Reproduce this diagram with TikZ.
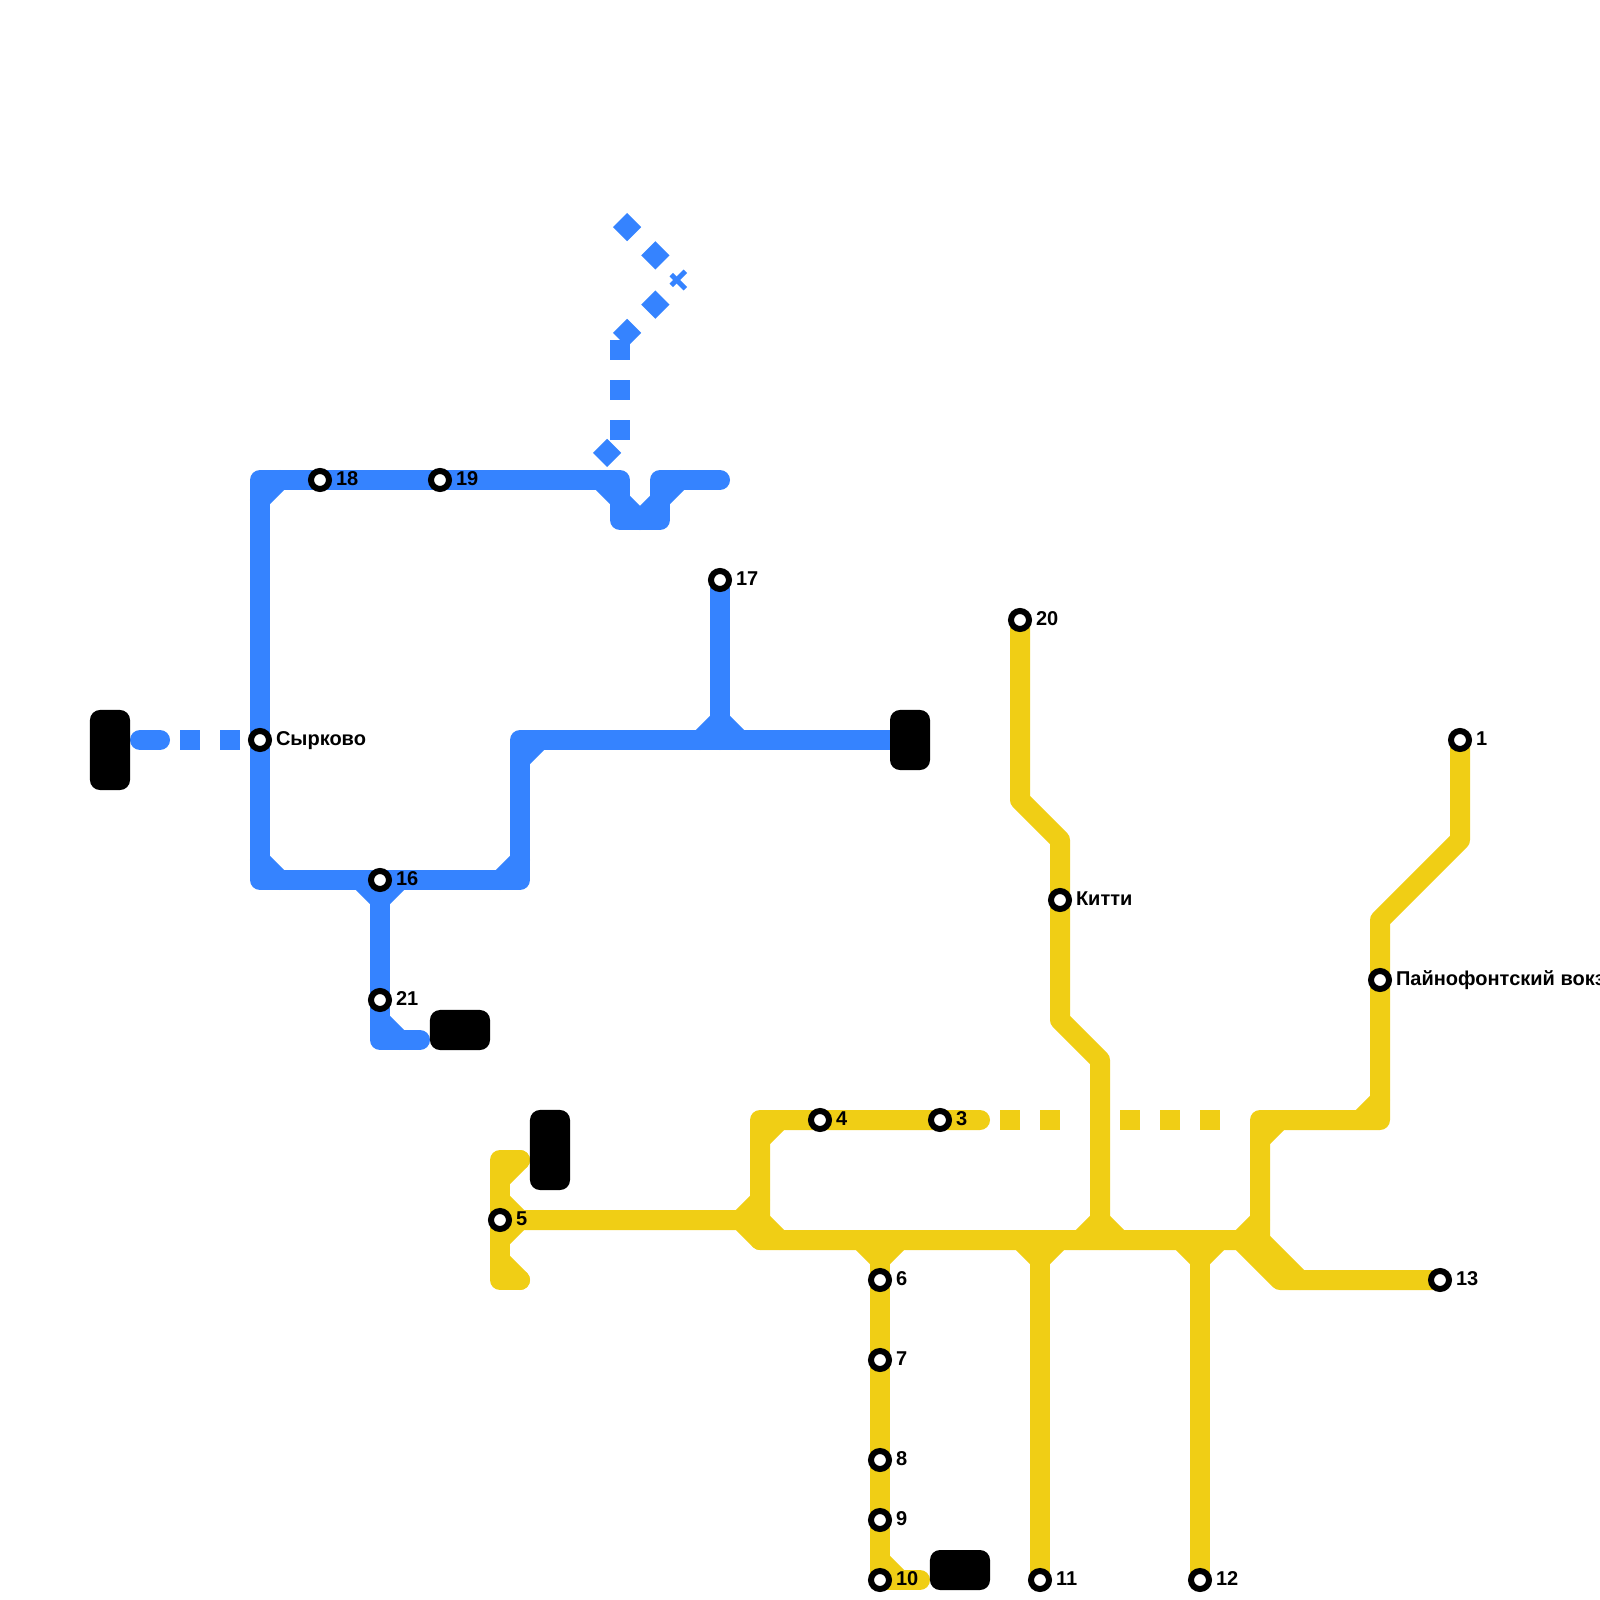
\documentclass[tikz,border=0pt]{standalone}
\usepackage{fontspec}
\setmainfont{Liberation Sans}
\usetikzlibrary{backgrounds}
\definecolor{lineblue}{HTML}{3583FF}
\definecolor{lineyellow}{HTML}{F0CE15}
\tikzset{
    mystation/.style = {circle, line width=0.06cm, draw=black, fill=white, inner sep=0pt, outer sep=0pt, minimum size=0.18cm},
    mylabel/.style = {inner sep=0pt, outer sep=0pt, xshift=0.07cm, text height=0.145cm, text depth=0.045cm, font=\bfseries\fontsize{5.69}{7}\selectfont, text=black},
    mydepot/.style = {rectangle, rounded corners=0.1cm, fill=black, inner sep=0pt, minimum width=0.4cm, minimum height=0.8cm},
    mydepotw/.style = {rectangle, rounded corners=0.1cm, fill=black, inner sep=0pt, minimum width=0.6cm, minimum height=0.4cm},
    mydepots/.style = {rectangle, rounded corners=0.1cm, fill=black, inner sep=0pt, minimum width=0.4cm, minimum height=0.6cm},
    edgeb/.style = {-,line width=0.2cm,lineblue,line join=round,line cap=round},
    edgey/.style = {-,line width=0.2cm,lineyellow,line join=round,line cap=round},
    edgebd/.style = {-,line width=0.2cm,lineblue,dash pattern=on 0.2cm off 0.2cm}, % planned
    edgeyd/.style = {-,line width=0.2cm,lineyellow,dash pattern=on 0.2cm off 0.2cm} % planned
}
\begin{document}
\begin{tikzpicture}[x=0.01cm,y=-0.01cm]
%
\path[use as bounding box] (0,0) rectangle (1600,1600);
%
% blue stations
\node[mystation, label={[mylabel]right:18}] at (320,480) (s18) {};
\node[mystation, label={[mylabel]right:19}] at (440,480) (s19) {};
\node[mystation, label={[mylabel]right:17}] at (720,580) (s17) {};
\node[mystation, label={[mylabel]right:Сырково}] at (260,740) (ssyr) {};
\node[mystation, label={[mylabel]right:16}] at (380,880) (s16) {};
\node[mystation, label={[mylabel]right:21}] at (380,1000) (s21) {};
% yellow stations
\node[mystation, label={[mylabel]right:20}] at (1020,620) (s20) {};
\node[mystation, label={[mylabel]right:Китти}] at (1060,900) (skit) {};
\node[mystation, label={[mylabel]right:1}] at (1460,740) (s1) {};
\node[mystation, label={[mylabel]right:Пайнофонтский вокз}] at (1380,980) (spai) {};
\node[mystation, label={[mylabel]right:4}] at (820,1120) (s4) {};
\node[mystation, label={[mylabel]right:3}] at (940,1120) (s3) {};
\node[mystation, label={[mylabel]right:5}] at (500,1220) (s5) {};
\node[mystation, label={[mylabel]right:13}] at (1440,1280) (s13) {};
\node[mystation, label={[mylabel]right:6}] at (880,1280) (s6) {};
\node[mystation, label={[mylabel]right:7}] at (880,1360) (s7) {};
\node[mystation, label={[mylabel]right:8}] at (880,1460) (s8) {};
\node[mystation, label={[mylabel]right:9}] at (880,1520) (s9) {};
\node[mystation, label={[mylabel]right:10}] at (880,1580) (s10) {};
\node[mystation, label={[mylabel]right:11}] at (1040,1580) (s11) {};
\node[mystation, label={[mylabel]right:12}] at (1200,1580) (s12) {};
% depots
\node[mydepot] at (110,750) (dleft) {};
\node[mydepots] at (910,740) (dright) {};
\node[mydepotw] at (460,1030) (dmid) {};
\node[mydepot] at (550,1150) (dup) {};
\node[mydepotw] at (960,1570) (dlow) {};
%
% blue bends
\coordinate (ba) at (720,480);
\coordinate (bb) at (660,480);
\coordinate (bc) at (660,520);
\coordinate (bd) at (620,520);
\coordinate (be) at (620,480);
\coordinate (bf) at (260,480);
\coordinate (bg) at (260,880);
\coordinate (bh) at (520,880);
\coordinate (bi) at (520,740);
\coordinate (bj) at (720,740);
\coordinate (bk) at (380,1040);
\coordinate (bl) at (420,1040);
\coordinate (bm) at (140,740);
\coordinate (bn) at (160,740);
\coordinate (bo) at (180,740);
\coordinate (bp) at (620,440);
\coordinate (bq) at (620,340);
\coordinate (br) at (600,460);
\coordinate (bs) at (680,280);
\coordinate (bt) at (620,220);
% yellow bends
\coordinate (ya) at (1020,800);
\coordinate (yb) at (1060,840);
\coordinate (yc) at (1060,1020);
\coordinate (yd) at (1100,1060);
\coordinate (ye) at (1100,1240);
\coordinate (yf) at (1460,840);
\coordinate (yg) at (1380,920);
\coordinate (yh) at (1380,1120);
\coordinate (yi) at (1260,1120);
\coordinate (yj) at (1260,1240);
\coordinate (yk) at (760,1240);
\coordinate (yl) at (760,1120);
\coordinate (ym) at (980,1120);
\coordinate (yn) at (760,1220);
\coordinate (yo) at (740,1220);
\coordinate (yp) at (500,1160);
\coordinate (yq) at (520,1160);
\coordinate (yr) at (500,1280);
\coordinate (ys) at (520,1280);
\coordinate (yt) at (880,1240);
\coordinate (yu) at (1040,1240);
\coordinate (yv) at (1200,1240);
\coordinate (yw) at (1240,1240);
\coordinate (yx) at (1280,1280);
\coordinate (yy) at (880,1580);
\coordinate (yz) at (920,1580);
%
\begin{scope}[on background layer]
% blue line
\draw[edgeb] (ba) -- (bb) -- (bc) -- (bd) -- (be) -- (s19.center) -- (s18.center) -- (bf) -- (ssyr.center) -- (bg) -- (s16.center) -- (bh) -- (bi) -- (bj) -- (dright.center);
\draw[edgeb] (s17.center) -- (bj);
\draw[edgeb] (s16.center) -- (s21.center) -- (bk) -- (bl);
\draw[edgeb] (bm) -- (bn);
\draw[edgebd] (bo) -- (ssyr.center);
\draw[edgebd] (bp) -- (bq);
\draw[edgebd] (br) -- (bp);
\draw[edgebd] (bq) -- (bs);
\draw[edgebd] (bt) -- (bs);
% blue corners
\draw[edgeb] (bb) +(20,0) -- +(0,20);
\draw[edgeb] (bc) +(0,-20) -- +(-20,0);
\draw[edgeb] (bd) +(20,0) -- +(0,-20);
\draw[edgeb] (be) +(-20,0) -- +(0,20);
\draw[edgeb] (bf) +(0,20) -- +(20,0);
\draw[edgeb] (bg) +(0,-20) -- +(20,0);
\draw[edgeb] (bh) +(-20,0) -- +(0,-20);
\draw[edgeb] (bi) +(0,20) -- +(20,0);
\draw[edgeb] (bj) +(-20,0) -- +(0,-20);
\draw[edgeb] (bj) +(20,0) -- +(0,-20);
\draw[edgeb] (s16.center) +(-20,0) -- +(0,20);
\draw[edgeb] (s16.center) +(20,0) -- +(0,20);
\draw[edgeb] (bk) +(0,-20) -- +(20,0);
% yellow line
\draw[edgey] (s20.center) -- (ya) -- (yb) -- (skit.center) -- (yc) -- (yd) -- (ye);
\draw[edgey] (s1.center) -- (yf) -- (yg) -- (spai.center) -- (yh) -- (yi) -- (yj) -- (yk) -- (yl) -- (s4.center) -- (s3.center) -- (ym);
\draw[edgey] (yk) -- (yo) -- (s5.center);
\draw[edgey] (yq) -- (yp) -- (yr) -- (ys);
\draw[edgey] (yw) -- (yx) -- (s13.center);
\draw[edgey] (yt) -- (s6.center) -- (s7.center) -- (s8.center) -- (s9.center) -- (yy) -- (yz);
\draw[edgey] (yu) -- (s11.center);
\draw[edgey] (yv) -- (s12.center);
\draw[edgeyd] (1000,1120) -- (1060,1120);
\draw[edgeyd] (1120,1120) -- (1220,1120);
% yellow corners
\draw[edgey] (ye) +(-20,0) -- +(0,-20);
\draw[edgey] (ye) +(20,0) -- +(0,-20);
\draw[edgey] (yh) +(-20,0) -- +(0,-20);
\draw[edgey] (yi) +(0,20) -- +(20,0);
\draw[edgey] (yj) +(-20,0) -- +(0,-20);
\draw[edgey] (yj) -- (1300,1280);
\draw[edgey] (yl) +(0,20) -- +(20,0);
\draw[edgey] (yn) +(0,-20) -- +(-20,0);
\draw[edgey] (yn) -- (780,1240);
\draw[edgey] (s5.center) +(0,-20) -- +(20,0);
\draw[edgey] (s5.center) +(0,20) -- +(20,0);
\draw[edgey] (yp) +(0,20) -- +(20,0);
\draw[edgey] (yr) +(0,-20) -- +(20,0);
\draw[edgey] (yt) +(-20,0) -- +(0,20);
\draw[edgey] (yt) +(20,0) -- +(0,20);
\draw[edgey] (yu) +(-20,0) -- +(0,20);
\draw[edgey] (yu) +(20,0) -- +(0,20);
\draw[edgey] (yv) +(-20,0) -- +(0,20);
\draw[edgey] (yv) +(20,0) -- +(0,20);
\draw[edgey] (yy) +(0,-20) -- +(20,0);
\end{scope}

\end{tikzpicture}
\end{document}
